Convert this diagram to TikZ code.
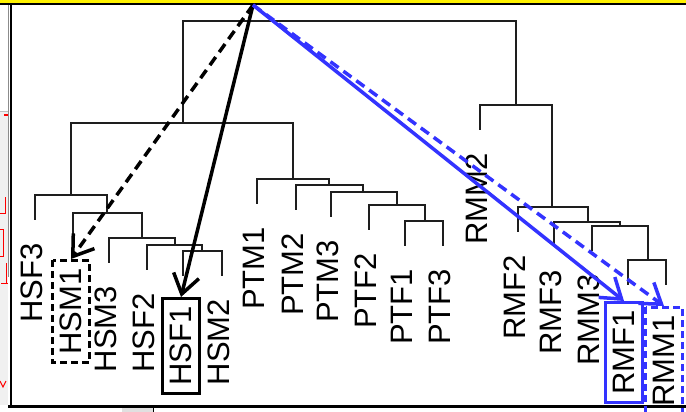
\documentclass[tikz,border=0pt]{standalone}
\usepackage{fontspec}
\setmainfont{Liberation Sans}
\usetikzlibrary{arrows.meta}
\definecolor{TreeBlue}{HTML}{3333FF}
\definecolor{TreeInk}{HTML}{1E1E1E}

\begin{document}
\begin{tikzpicture}[x=1pt, y=-1pt,
  dendro/.style={draw=TreeInk, line width=2pt, line cap=rect},
  lbl/.style={rotate=90, anchor=east, inner sep=2pt,
              font=\fontsize{31}{31}\selectfont},
  boxlbl/.style={lbl, draw, line width=2.8pt, inner xsep=8pt, inner ysep=7.5pt},
  boxdash/.style={dash pattern=on 7pt off 4pt},
  pick/.style={line width=3.5pt, -{Straight Barb[length=19pt, width=26pt]}},
  pickdash/.style={dash pattern=on 10pt off 6pt},
]
\useasboundingbox (0,0) rectangle (686,412);

%% ---- frame of the screenshot ----
\fill[yellow] (0,0) rectangle (686,2.7);
\fill[black] (0,2.7) rectangle (686,5.5);
\fill[black!6] (0,111) rectangle (8,405);
\draw[black!25, line width=0.8pt] (0,111) -- (8,111);
\draw[black!45, line width=0.8pt] (8,5.5) -- (8,277);
\draw[red, line width=1pt] (4,115) -- (8,115);
\draw[red, line width=1pt] (0,213) -- (5,213) -- (5,197);
\draw[red, line width=1pt] (0,229) -| (3,256) -- (0,256);
\draw[red, line width=1pt] (6,263) -- (6,283) (1,283) -- (8,283);
\draw[red, line width=1pt] (0,381) -- (3,387) -- (6,381);
\draw[black, line width=2.2pt] (11,5.5) -- (11,407);
\draw[black, line width=2.8pt] (8,406.5) -- (686,406.5);
\fill[black!12] (122,408) rectangle (153,412);
\draw[black, line width=1pt] (153,408) -- (153,412);

%% ---- dendrogram: xa/ya/xb/yb/height ----
\foreach \xa/\ya/\xb/\yb/\h in {183/123/516/105/21, 71/195/293/179/123,
    35/219/107/213/195, 73/237/142/238/213, 109/262/175/245/238,
    147/269/202/251/245, 183/275/222/275/251,
    257/203/329/185/179, 296/209/363/192/185, 331/216/397/205/192,
    369/229/425/221/205, 405/245/443/245/221,
    480/129/552/207/105, 518/231/588/222/207, 554/246/620/226/222,
    592/250/648/260/226, 628/284/666/284/260}
  \draw[dendro] (\xa,\ya) |- (\xb,\h) -- (\xb,\yb);

%% ---- leaf labels ----
\foreach \lab/\x/\y in {HSF3/35/219, HSM3/109/262, HSF2/147/269, HSM2/222/275,
    PTM1/257/203, PTM2/296/209, PTM3/331/216, PTF2/369/229, PTF1/405/245,
    PTF3/443/245, RMM2/480/129, RMF2/518/231, RMF3/554/246, RMM3/592/250}
  \node[lbl] (\lab) at (\x-3,\y+22) {\lab};
\node[boxlbl, boxdash] (HSM1) at (71,259) {HSM1};
\node[boxlbl] (HSF1) at (181,297) {HSF1};
\node[boxlbl, draw=TreeBlue] (RMF1) at (624,301) {RMF1};
\node[boxlbl, boxdash, draw=TreeBlue] (RMM1) at (664,306) {RMM1};

%% ---- arrows from the root ----
\coordinate (apex) at (253,5);
\draw[pick, pickdash] (apex) -- (HSM1.east);
\draw[pick] (apex) -- (HSF1.east);
\draw[pick, TreeBlue] (apex) -- (RMF1.east);
\draw[pick, pickdash, TreeBlue] (apex) -- (RMM1.east);
\end{tikzpicture}
\end{document}
